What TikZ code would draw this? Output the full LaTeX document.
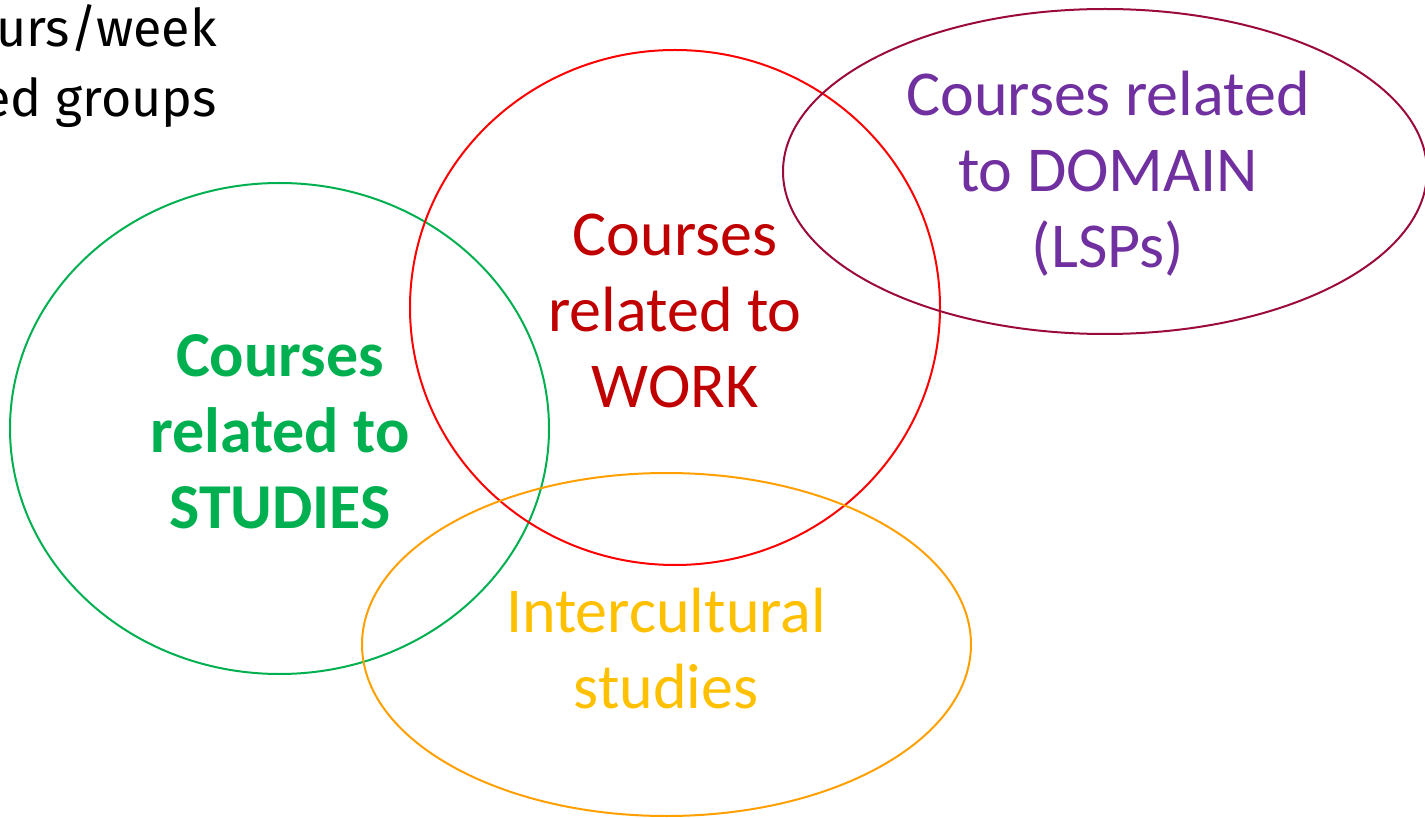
\documentclass[tikz,border=0pt]{standalone}
\usepackage{fontspec}
\setmainfont{Carlito}
\newfontfamily\handfont{Fira Sans}
\definecolor{cgreen}{HTML}{00B050}
\definecolor{cred}{HTML}{FF0000}
\definecolor{cdred}{HTML}{C00000}
\definecolor{cplum}{HTML}{9B0A3C}
\definecolor{cpurple}{HTML}{7030A0}
\definecolor{corange}{HTML}{FFA000}
\definecolor{cyellow}{HTML}{FFC000}
\begin{document}
\begin{tikzpicture}[x=1pt,y=-1pt,
  ring/.style={line width=2pt},
  lab/.style={align=center,font=\fontsize{64}{76}\selectfont,inner sep=0pt},
  hand/.style={anchor=east,font=\handfont\fontsize{52}{60}\selectfont,inner sep=0pt}]
\useasboundingbox (0,0) rectangle (1425,818);
\clip (0,0) rectangle (1425,818);
\draw[ring,cgreen] (279.5,428.5) ellipse [x radius=269.5, y radius=245.5];
\draw[ring,cred] (675,307.5) ellipse [x radius=265, y radius=257.5];
\draw[ring,cplum] (1105,171.5) ellipse [x radius=322, y radius=162.5];
\draw[ring,corange] (666.5,644.5) ellipse [x radius=304.5, y radius=171.5];
\node[lab,text=cgreen,font=\bfseries\fontsize{64}{76}\selectfont] (studies) at (280,432) {Courses\\related to\\STUDIES};
\node[lab,text=cdred] (work) at (675,311) {Courses\\related to\\WORK};
\node[lab,text=cpurple] (domain) at (1108,174) {Courses related\\to DOMAIN\\(LSPs)};
\node[lab,text=cyellow] (inter) at (666,649) {Intercultural\\studies};
\node[hand] (t1) at (217,28) {urs/week};
\node[hand] (t2) at (217,103) {ed groups};
\end{tikzpicture}
\end{document}
